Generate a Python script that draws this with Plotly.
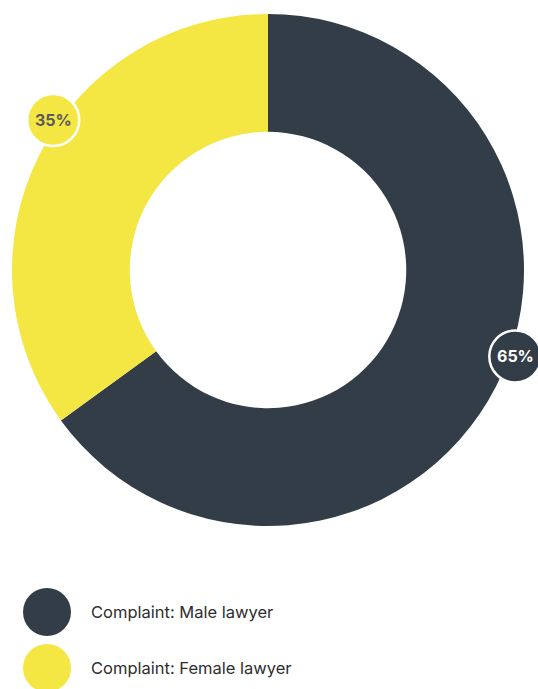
import math
import plotly.graph_objects as go

labels = ["Complaint: Male lawyer", "Complaint: Female lawyer"]
values = [65, 35]
colors = ["#333d48", "#f4e643"]
badge_text_colors = ["#ffffff", "#5b5b5b"]
badge_pos_frac = [0.467, 0.437]  # position of badge along each slice

W, H = 538, 689
cx_px, cy_px, R_px = 268, 270, 256
badge_dist = 262
badge_r = 26

fig = go.Figure(go.Pie(
    labels=labels, values=values, sort=False, direction="clockwise", rotation=0,
    hole=0.54, marker=dict(colors=colors, line=dict(width=0)),
    textinfo="none", hoverinfo="label+percent", showlegend=False,
    domain=dict(x=[(cx_px - R_px) / W, (cx_px + R_px) / W],
                y=[1 - (cy_px + R_px) / H, 1 - (cy_px - R_px) / H]),
))

shapes, annotations = [], []
total = sum(values)
start = 0.0
for i, v in enumerate(values):
    span = 360.0 * v / total
    if i == 0:
        ang = start + span * badge_pos_frac[i]
    else:
        ang = start + span * (1 - badge_pos_frac[i])
    th = math.radians(ang)
    bx = cx_px + badge_dist * math.sin(th)
    by = cy_px - badge_dist * math.cos(th)
    r = badge_r
    shapes.append(dict(type="circle", xref="paper", yref="paper",
                       x0=(bx - r) / W, x1=(bx + r) / W,
                       y0=1 - (by + r) / H, y1=1 - (by - r) / H,
                       fillcolor=colors[i], line=dict(color="#ffffff", width=2.5)))
    annotations.append(dict(x=bx / W, y=1 - by / H, xref="paper", yref="paper",
                            xanchor="center", yanchor="middle",
                            text=f"<b>{round(100 * v / total)}%</b>", showarrow=False,
                            font=dict(family="Inter", size=16, color=badge_text_colors[i])))
    start += span

# legend
leg_x, leg_y0, leg_dy, leg_r = 47, 612, 56, 24
for i, lab in enumerate(labels):
    ly = leg_y0 + i * leg_dy
    shapes.append(dict(type="circle", xref="paper", yref="paper",
                       x0=(leg_x - leg_r) / W, x1=(leg_x + leg_r) / W,
                       y0=1 - (ly + leg_r) / H, y1=1 - (ly - leg_r) / H,
                       fillcolor=colors[i], line=dict(width=0)))
    annotations.append(dict(x=89 / W, y=1 - ly / H, xref="paper", yref="paper",
                            xanchor="left", yanchor="middle", text=lab, showarrow=False,
                            font=dict(family="Inter", size=16.5, color="#2e2e2e")))

fig.update_layout(width=W, height=H, margin=dict(l=0, r=0, t=0, b=0),
                  paper_bgcolor="#ffffff", plot_bgcolor="#ffffff",
                  shapes=shapes, annotations=annotations)
fig.write_html("out.html")
